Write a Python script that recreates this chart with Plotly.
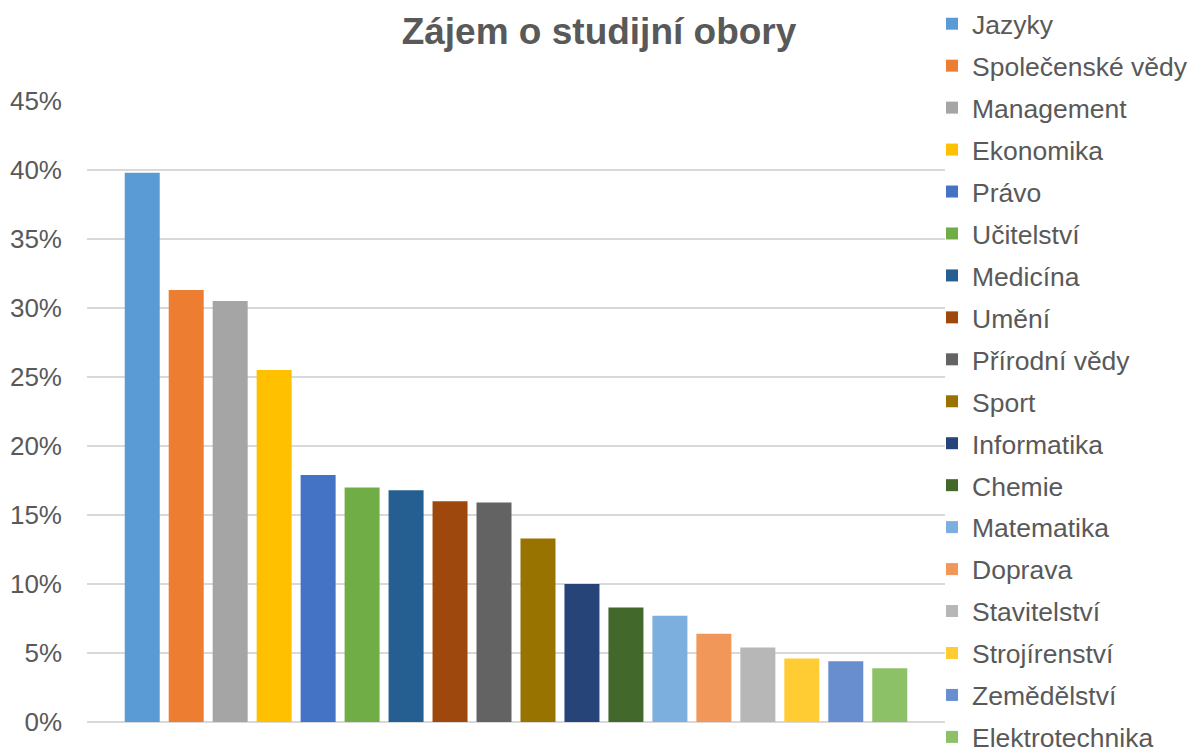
import plotly.graph_objects as go

categories = ["Jazyky", "Společenské vědy", "Management", "Ekonomika", "Právo",
              "Učitelství", "Medicína", "Umění", "Přírodní vědy", "Sport",
              "Informatika", "Chemie", "Matematika", "Doprava", "Stavitelství",
              "Strojírenství", "Zemědělství", "Elektrotechnika"]
values = [0.398, 0.313, 0.305, 0.255, 0.179, 0.170, 0.168, 0.160, 0.159, 0.133,
          0.100, 0.083, 0.077, 0.064, 0.054, 0.046, 0.044, 0.039]
colors = ["#5B9BD5", "#ED7D31", "#A5A5A5", "#FFC000", "#4472C4", "#70AD47",
          "#255E91", "#9E480E", "#636363", "#997300", "#264478", "#43682B",
          "#7CAFDD", "#F1975A", "#B7B7B7", "#FFCD33", "#698ED0", "#8CC168"]
y_ticks = [0, 0.05, 0.10, 0.15, 0.20, 0.25, 0.30, 0.35, 0.40, 0.45]

FONT = "Liberation Sans, Arial, sans-serif"
fig = go.Figure()
for i, (name, v, c) in enumerate(zip(categories, values, colors)):
    fig.add_trace(go.Bar(x=[""], y=[v], name=name, marker_color=c,
                         marker_line_width=0, legendgroup=f"g{i}"))

fig.update_layout(
    width=1189, height=752,
    barmode="group", bargap=0.0775, bargroupgap=0.204,
    paper_bgcolor="white", plot_bgcolor="white",
    margin=dict(l=87, r=244, t=101, b=30, autoexpand=False),
    title=dict(text="<b>Zájem o studijní obory</b>", x=599/1189, xanchor="center",
               y=1 - 31/752, yanchor="middle",
               font=dict(family=FONT, size=37, color="#595959")),
    font=dict(family=FONT, color="#595959"),
    showlegend=True,
    legend=dict(x=932/1189, xref="container", xanchor="left",
                y=1 + 3/752, yref="container", yanchor="top",
                font=dict(family=FONT, size=26.5, color="#595959"),
                tracegroupgap=4.5, maxheight=900,
                bgcolor="rgba(0,0,0,0)"),
    xaxis=dict(showticklabels=False, showgrid=False, zeroline=False, showline=False),
    yaxis=dict(range=[0, 0.45], tickvals=y_ticks, tickformat=".0%",
               showgrid=True, gridcolor="#D9D9D9", gridwidth=1.5,
               zeroline=True, zerolinecolor="#D9D9D9", zerolinewidth=1.5,
               showline=False, ticks="", ticklabelstandoff=24,
               tickfont=dict(family=FONT, size=26, color="#595959")),
)
fig.write_html("out.html", config={"displayModeBar": False},
               post_script="document.body.style.margin='0';document.body.style.overflow='hidden';")
